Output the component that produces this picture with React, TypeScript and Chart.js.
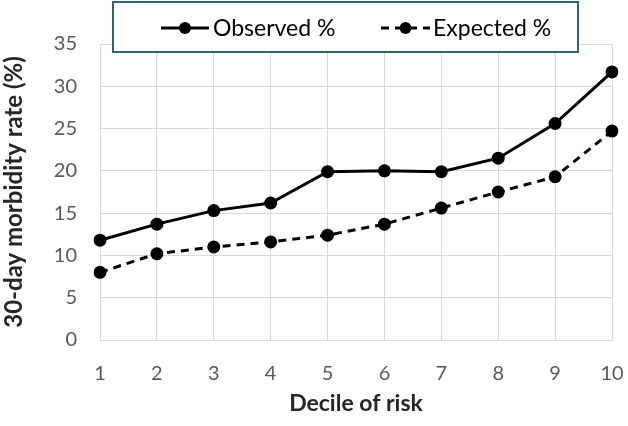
import React, { useEffect, useRef } from "react";
import { Chart, registerables } from "chart.js";

Chart.register(...registerables);

const deciles = ["1", "2", "3", "4", "5", "6", "7", "8", "9", "10"];
const observed = [11.8, 13.7, 15.3, 16.2, 19.9, 20.0, 19.9, 21.5, 25.6, 31.7];
const expected = [8.0, 10.2, 11.0, 11.6, 12.4, 13.7, 15.6, 17.5, 19.3, 24.7];
const legendLabels = ["Observed %", "Expected %"];
const yTitle = "30-day morbidity rate (%)";
const xTitle = "Decile of risk";

const FONT = "Lato, 'Open Sans', sans-serif";

const legendPlugin = {
  id: "boxLegend",
  afterDraw(chart: any) {
    const ctx = chart.ctx;
    ctx.save();
    ctx.fillStyle = "#ffffff";
    ctx.fillRect(113, 2, 465, 50);
    ctx.strokeStyle = "#2f6571";
    ctx.lineWidth = 2;
    ctx.strokeRect(113, 2, 465, 50);
    const items = [
      { x0: 161, x1: 209, tx: 213, dash: [] as number[], label: legendLabels[0] },
      { x0: 381, x1: 430, tx: 433, dash: [8, 6], label: legendLabels[1] },
    ];
    const y = 28;
    for (const it of items) {
      ctx.strokeStyle = "#000";
      ctx.lineWidth = 3;
      ctx.setLineDash(it.dash);
      ctx.beginPath();
      ctx.moveTo(it.x0, y);
      ctx.lineTo(it.x1, y);
      ctx.stroke();
      ctx.setLineDash([]);
      ctx.fillStyle = "#000";
      ctx.beginPath();
      ctx.arc((it.x0 + it.x1) / 2, y, 6, 0, Math.PI * 2);
      ctx.fill();
      ctx.font = `23px ${FONT}`;
      ctx.textBaseline = "middle";
      ctx.textAlign = "left";
      ctx.fillText(it.label, it.tx, y + 1);
    }
    ctx.restore();
  },
};

export default function App() {
  const ref = useRef<HTMLCanvasElement | null>(null);
  useEffect(() => {
    if (!ref.current) return;
    const chart = new Chart(ref.current, {
      type: "line",
      data: {
        labels: deciles,
        datasets: [
          {
            label: legendLabels[0],
            data: observed,
            borderColor: "#000",
            backgroundColor: "#000",
            borderWidth: 3,
            pointRadius: 6.5,
            pointHoverRadius: 6.5,
            pointBackgroundColor: "#000",
            pointBorderWidth: 0,
            tension: 0,
          },
          {
            label: legendLabels[1],
            data: expected,
            borderColor: "#000",
            backgroundColor: "#000",
            borderWidth: 3,
            borderDash: [8, 6],
            pointRadius: 6.5,
            pointHoverRadius: 6.5,
            pointBackgroundColor: "#000",
            pointBorderWidth: 0,
            tension: 0,
          },
        ],
      },
      options: {
        responsive: false,
        animation: false,
        events: [],
        layout: { padding: { top: 44, right: 16, left: 0, bottom: 0 } },
        plugins: {
          legend: { display: false },
          tooltip: { enabled: false },
        },
        scales: {
          x: {
            offset: false,
            grid: { color: "#d9d9d9", lineWidth: 1, drawTicks: false },
            border: { color: "#d9d9d9" },
            ticks: { color: "#595959", font: { family: FONT, size: 20 }, padding: 22, maxRotation: 0, autoSkip: false },
            title: {
              display: true,
              text: xTitle,
              color: "#262626",
              font: { family: FONT, size: 23, weight: "bold" },
              padding: { top: 0, bottom: 9 },
            },
            afterFit(scale: any) {
              scale.height = 86;
              scale.paddingLeft = 0;
              scale.paddingRight = 0;
            },
          },
          y: {
            min: 0,
            max: 35,
            grid: { color: "#d9d9d9", lineWidth: 1, drawTicks: false },
            border: { color: "#d9d9d9" },
            ticks: { stepSize: 5, color: "#595959", font: { family: FONT, size: 20 }, padding: 23 },
            title: {
              display: true,
              text: yTitle,
              color: "#262626",
              font: { family: FONT, size: 24, weight: "bold" },
              padding: { top: 0, bottom: 0 },
            },
            afterFit(scale: any) {
              scale.width = 100;
            },
          },
        },
      },
      plugins: [legendPlugin],
    } as any);
    return () => chart.destroy();
  }, []);
  return (
    <div style={{ position: "fixed", left: 0, top: 0, width: 628, height: 426, background: "#fff" }}>
      <canvas ref={ref} width={628} height={426} style={{ width: 628, height: 426, display: "block" }} />
    </div>
  );
}
